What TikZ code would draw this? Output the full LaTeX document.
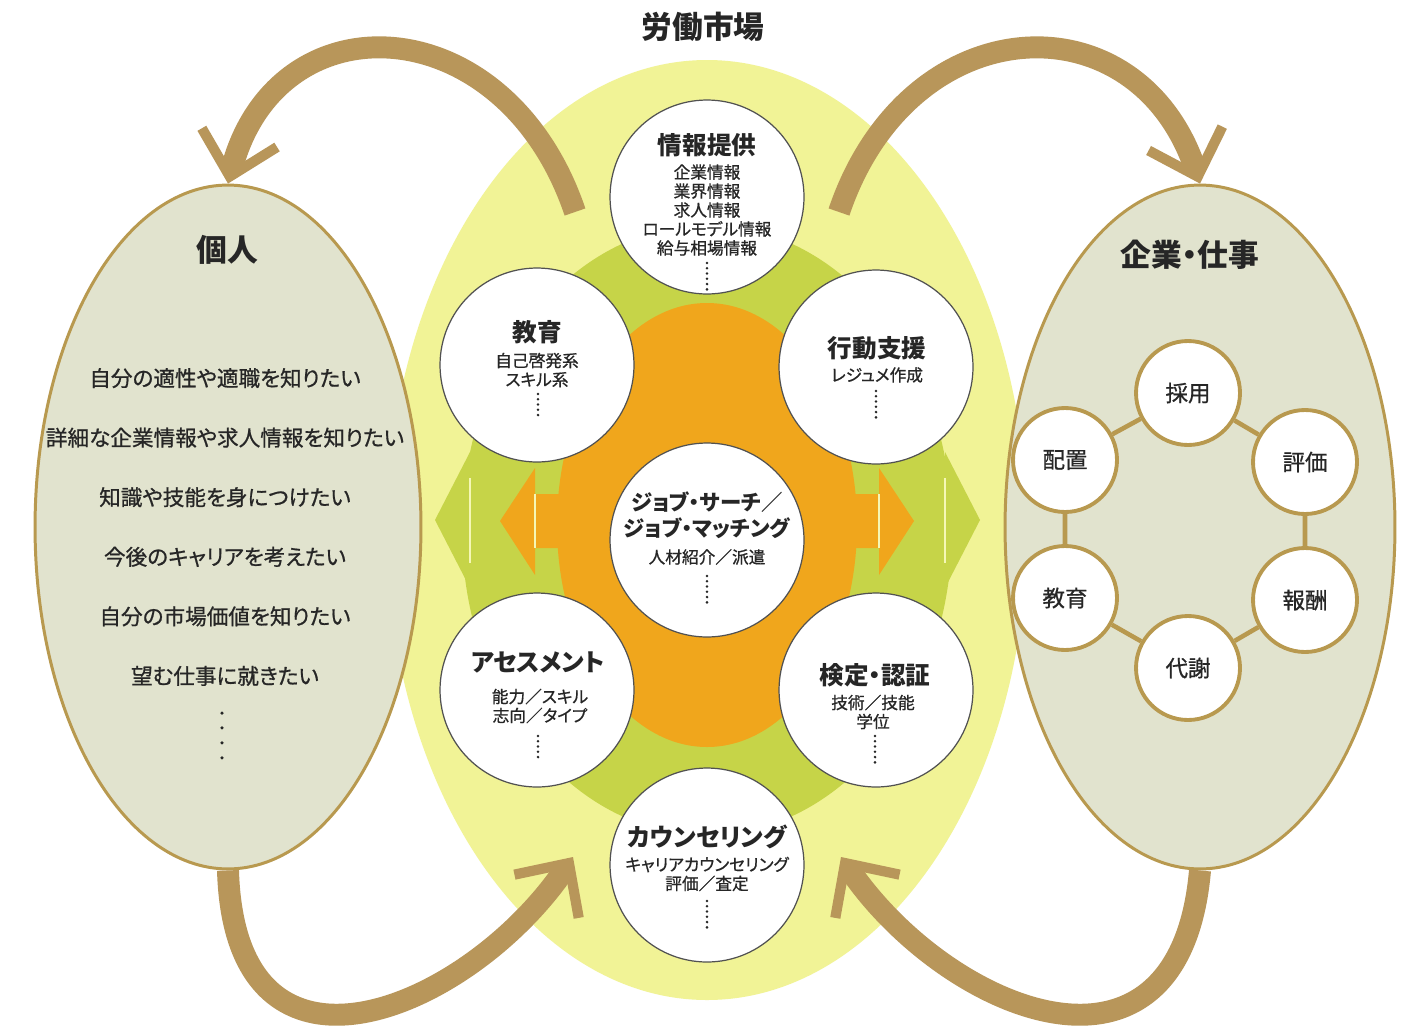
\documentclass[tikz,border=0pt]{standalone}
\usepackage{fontspec}
\usetikzlibrary{arrows.meta,shapes.geometric}
\newfontfamily\jp[RawFeature=+palt]{Noto Sans CJK JP}
\newfontfamily\jpmed[RawFeature=+palt, FakeBold=0.8]{Noto Sans CJK JP}
\definecolor{marketyellow}{HTML}{F1F396}
\definecolor{marketgreen}{HTML}{C6D448}
\definecolor{marketorange}{HTML}{F0A61C}
\definecolor{sidefill}{HTML}{E1E3CE}
\definecolor{sideborder}{HTML}{B8994F}
\definecolor{looptan}{HTML}{B8965A}
\definecolor{inkdark}{HTML}{262626}

\tikzset{
  svc/.style={circle, draw=inkdark!80, line width=0.7pt, fill=white, minimum size=3.88cm, inner sep=0pt},
  svctitle/.style={font=\jp\bfseries\fontsize{14}{14.7}\selectfont, text=inkdark, align=center, inner sep=0pt},
  svcsub/.style={font=\jpmed\fontsize{9.5}{10.8}\selectfont, text=inkdark, align=center, inner sep=0pt},
  vdots/.style={draw=inkdark, line width=1.6pt, line cap=round, dash pattern=on 0pt off 3pt},
  side/.style={ellipse, draw=sideborder, line width=1.7pt, fill=sidefill, inner sep=0pt},
  heading/.style={font=\jp\bfseries\fontsize{17.5}{19}\selectfont, text=inkdark, inner sep=0pt},
  wants/.style={font=\jpmed\fontsize{12.3}{33.9}\selectfont, text=inkdark, align=center, inner sep=0pt},
  hr/.style={circle, draw=sideborder, line width=2.2pt, fill=white, minimum size=2.08cm, inner sep=0pt,
    font=\jpmed\fontsize{12.8}{14}\selectfont, text=inkdark},
  hrlink/.style={draw=sideborder, line width=2.6pt},
  loop/.style={draw=looptan, line width=12.5pt, -{Straight Barb[length=0.8cm, width=1.55cm, line width=5.8pt]}},
  seam/.style={draw=marketyellow!70!white, line width=0.8pt}
}

\begin{document}
\begin{tikzpicture}[x=0.02cm, y=-0.02cm]
\useasboundingbox (0,0) rectangle (1405,1031);
\fill[white] (0,0) rectangle (1405,1031);

% Labour market layers
\fill[marketyellow] (707,530) ellipse [x radius=320, y radius=470];
\fill[marketgreen] (707,530) ellipse [x radius=245, y radius=305];
\fill[marketgreen] (435,520) -- (470,452) -- (470,478) -- (945,478) -- (945,452) -- (980,520)
  -- (945,588) -- (945,563) -- (470,563) -- (470,588) -- cycle;
\fill[marketorange] (707,525) ellipse [x radius=150, y radius=222];
\fill[marketorange] (500,521) -- (535,468) -- (535,494) -- (879,494) -- (879,468) -- (914,521)
  -- (879,575) -- (879,548) -- (535,548) -- (535,575) -- cycle;
\draw[seam] (470,478) -- (470,563);
\draw[seam] (945,478) -- (945,563);
\draw[seam] (535,494) -- (535,548);
\draw[seam] (879,494) -- (879,548);

% Service circles
\node[svc] (info) at (707,197) {};
\node[svc] (edu) at (537,365) {};
\node[svc] (act) at (876,367) {};
\node[svc] (match) at (707,540) {};
\node[svc] (assess) at (537,690) {};
\node[svc] (cert) at (876,690) {};
\node[svc] (counsel) at (707,865) {};

% Loops between the market and both sides
\coordinate (mkt-nw) at (575,212);
\coordinate (mkt-ne) at (839,212);
\coordinate (mkt-sw) at (573,857);
\coordinate (mkt-se) at (841,857);
\node[side, minimum width=7.72cm, minimum height=13.68cm] (person) at (228,527) {};
\node[side, minimum width=7.8cm, minimum height=13.68cm] (firm) at (1200,527) {};
\draw[loop] (mkt-nw) .. controls (505,5) and (275,-5) .. (person.north);
\draw[loop] (mkt-ne) .. controls (909,5) and (1139,-5) .. (firm.north);
\draw[loop] (person.south) .. controls (235,1110) and (470,1010) .. (mkt-sw);
\draw[loop] (firm.south) .. controls (1179,1110) and (944,1010) .. (mkt-se);

% Labels
\node[heading] (market-h) at (703,27) {労働市場};
\node[heading] (person-h) at (227,250) {個人};
\node[heading] (firm-h) at (1190,255) {企業・仕事};

\node[svctitle] (info-t) at (707,145) {情報提供};
\node[svcsub] (info-s) at (707,210) {企業情報\\業界情報\\求人情報\\ロールモデル情報\\給与相場情報};
\draw[vdots] (707,263) -- (707,292);

\node[svctitle] (edu-t) at (537,332) {教育};
\node[svcsub] (edu-s) at (537,370) {自己啓発系\\スキル系};
\draw[vdots] (538,394) -- (538,420);

\node[svctitle] (act-t) at (877,348) {行動支援};
\node[svcsub] (act-s) at (877,375) {レジュメ作成};
\draw[vdots] (876,391) -- (876,418);

\node[svctitle, font=\jp\bfseries\fontsize{12.2}{14.7}\selectfont] (match-t) at (707,515) {ジョブ・サーチ／\\ジョブ・マッチング};
\node[svcsub] (match-s) at (707,557) {人材紹介／派遣};
\draw[vdots] (707,576) -- (707,605);

\node[svctitle] (assess-t) at (538,662) {アセスメント};
\node[svcsub] (assess-s) at (540,706) {能力／スキル\\志向／タイプ};
\draw[vdots] (538,736) -- (538,762);

\node[svctitle] (cert-t) at (875,675) {検定・認証};
\node[svcsub] (cert-s) at (873,712) {技術／技能\\学位};
\draw[vdots] (875,736) -- (875,765);

\node[svctitle] (counsel-t) at (707,837) {カウンセリング};
\node[svcsub] (counsel-s) at (707,874) {キャリアカウンセリング\\評価／査定};
\draw[vdots] (707,901) -- (707,930);

% Individual needs
\node[wants] (person-w) at (225,527) {自分の適性や適職を知りたい\\詳細な企業情報や求人情報を知りたい\\知識や技能を身につけたい\\今後のキャリアを考えたい\\自分の市場価値を知りたい\\望む仕事に就きたい};
\draw[vdots, line width=2pt, dash pattern=on 0pt off 8.5pt] (222,713) -- (222,765);

% HR cycle
\node[hr] (hire) at (1188,393) {採用};
\node[hr] (eval) at (1305,462) {評価};
\node[hr] (pay) at (1305,600) {報酬};
\node[hr] (exit) at (1188,668) {代謝};
\node[hr] (train) at (1065,598) {教育};
\node[hr] (place) at (1065,460) {配置};
\draw[hrlink] (hire) -- (eval) -- (pay) -- (exit) -- (train) -- (place) -- (hire);
\end{tikzpicture}
\end{document}
